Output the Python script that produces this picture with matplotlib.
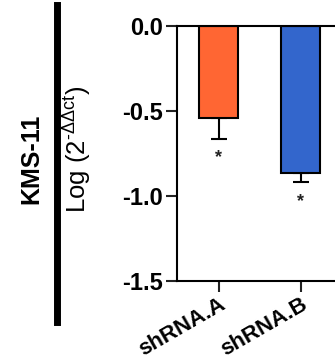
import matplotlib
matplotlib.use("Agg")
import matplotlib.pyplot as plt
from matplotlib.lines import Line2D

# Knockdown expression data (log of relative expression)
categories = ["shRNA.A", "shRNA.B"]
values = [-0.54, -0.865]
errors = [0.125, 0.055]
colors = ["#FF6633", "#3366CC"]
significance = ["*", "*"]
cell_line = "KMS-11"

plt.rcParams["font.family"] = ["Liberation Sans", "DejaVu Sans"]
plt.rcParams["mathtext.fontset"] = "custom"
plt.rcParams["mathtext.rm"] = "Liberation Sans"

W, H = 335, 360
fig = plt.figure(figsize=(W / 100, H / 100), dpi=100)

# axes box in pixel terms: y spine at x=177, from y=26 (0.0) to y=281 (-1.5)
left, right = 177, 335
top, bottom = 26, 281
ax = fig.add_axes([left / W, 1 - bottom / H, (right - left) / W, (bottom - top) / H])

x = list(range(len(categories)))
ax.bar(x, values, width=0.48, color=colors, edgecolor="black", linewidth=1.5, zorder=2)
for xi, v, e in zip(x, values, errors):
    ax.errorbar(xi, v, yerr=[[e], [0]], fmt="none", ecolor="black",
                elinewidth=1.5, capsize=6, capthick=1.5, zorder=1)
for xi, v, e, s in zip(x, values, errors, significance):
    ax.text(xi, v - e - 0.06, s, ha="center", va="top", fontsize=13,
            fontweight="bold", color="#222222")

ax.set_ylim(-1.5, 0.0)
ax.set_xlim(-0.506, 1.42)
ax.set_yticks([0.0, -0.5, -1.0, -1.5])
ax.set_yticklabels(["0.0", "-0.5", "-1.0", "-1.5"], fontsize=17, fontweight="bold")
ax.set_xticks(x)
ax.set_xticklabels(categories, rotation=30, ha="right", rotation_mode="anchor",
                   fontsize=16, fontweight="bold")
ax.tick_params(axis="both", direction="out", length=8, width=1.5, pad=2, color="#222222")
ax.tick_params(axis="x", pad=1)
for sp in ["left", "bottom", "top"]:
    ax.spines[sp].set_linewidth(1.5)
ax.spines["right"].set_visible(False)

ax.set_ylabel(r"Log (2$^{\mathrm{\text{-}ΔΔct}}$)", fontsize=18.5)
ax.yaxis.set_label_coords((93 - left) / (right - left), (bottom - 149) / (bottom - top))

# cell-line label and separator bar on the left
fig.text(31 / W, 1 - 159 / H, cell_line, rotation=90, ha="center", va="center",
         fontsize=18, fontweight="bold")
fig.add_artist(Line2D([57 / W, 57 / W], [1 - 5 / H, 1 - 322 / H], color="black",
                      linewidth=5, transform=fig.transFigure))

fig.savefig("out.png", dpi=100)
